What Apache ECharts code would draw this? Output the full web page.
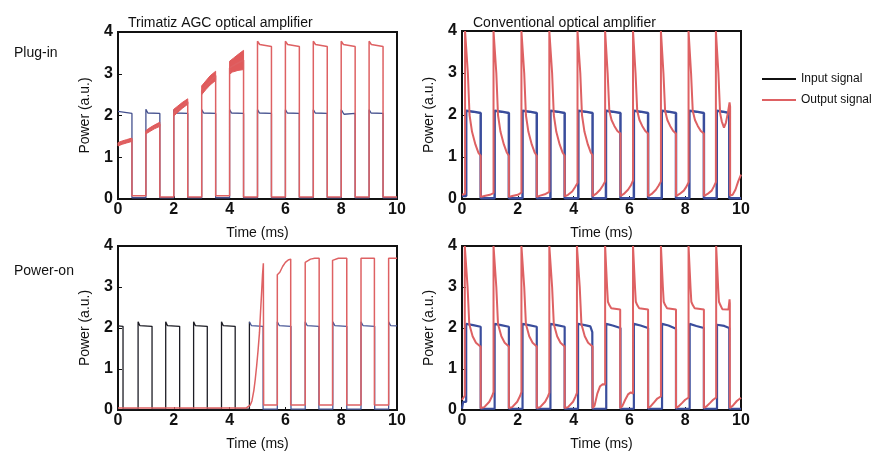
<!DOCTYPE html>
<html>
<head>
<meta charset="utf-8">
<script src="https://cdn.jsdelivr.net/npm/echarts@6/dist/echarts.min.js"></script>
<style>
html,body{margin:0;padding:0;background:#fff;}
#c{width:877px;height:452px;}
</style>
</head>
<body>
<div id="c"></div>
<script>
// ---------- DATA ----------
const xTicks = [0, 2, 4, 6, 8, 10];
const yTicks = [0, 1, 2, 3, 4];
const panelTitles = ['Trimatiz AGC optical amplifier', 'Conventional optical amplifier'];
const rowLabels = ['Plug-in', 'Power-on'];
const legendNames = ['Input signal', 'Output signal'];

// Panel 1: Trimatiz AGC, plug-in
const in1 = [[0,2.10],[0.05,2.06],[0.50,2.05],[0.50,0.03],[1.00,0.03],
 [1.00,2.15],[1.07,2.06],[1.50,2.05],[1.50,0.03],[2.00,0.03],
 [2.00,2.14],[2.07,2.06],[2.50,2.05],[2.50,0.03],[3.00,0.03],
 [3.00,2.14],[3.07,2.06],[3.50,2.05],[3.50,0.03],[4.00,0.03],
 [4.00,2.14],[4.07,2.06],[4.50,2.05],[4.50,0.03],[5.00,0.03],
 [5.00,2.14],[5.07,2.06],[5.50,2.05],[5.50,0.03],[6.00,0.03],
 [6.00,2.14],[6.07,2.06],[6.50,2.05],[6.50,0.03],[7.00,0.03],
 [7.00,2.14],[7.07,2.06],[7.50,2.05],[7.50,0.03],[8.00,0.03],
 [8.00,2.14],[8.10,2.03],[8.50,2.05],[8.50,0.03],[9.00,0.03],
 [9.00,2.14],[9.07,2.06],[9.50,2.05],[9.50,0.03],[10.00,0.03]];
const out1 = [[0,1.31],[0.25,1.37],[0.50,1.42],[0.50,0.08],[1.00,0.08],
 [1.00,1.60],[1.25,1.70],[1.50,1.79],[1.50,0.05],[2.00,0.05],
 [2.00,2.05],[2.25,2.20],[2.50,2.33],[2.50,0.05],[3.00,0.05],
 [3.00,2.60],[3.25,2.78],[3.50,2.96],[3.50,0.08],[4.00,0.08],
 [4.00,3.14],[4.25,3.24],[4.50,3.33],[4.50,0.05],[5.00,0.05],
 [5.00,3.78],[5.03,3.74],[5.08,3.70],[5.50,3.65],[5.50,0.05],[6.00,0.05],
 [6.00,3.78],[6.03,3.74],[6.08,3.70],[6.50,3.65],[6.50,0.05],[7.00,0.05],
 [7.00,3.78],[7.03,3.74],[7.08,3.70],[7.50,3.65],[7.50,0.05],[8.00,0.05],
 [8.00,3.78],[8.03,3.74],[8.08,3.70],[8.50,3.65],[8.50,0.05],[9.00,0.05],
 [9.00,3.78],[9.03,3.74],[9.08,3.70],[9.50,3.65],[9.50,0.05],[10.00,0.05]];
// thick (fast-fluctuating) output envelope during the first five pulses
const bandLo1 = [
 [[0,1.27],[0.15,1.31],[0.30,1.34],[0.50,1.38]],
 [[1,1.56],[1.15,1.62],[1.30,1.68],[1.50,1.74]],
 [[2,1.99],[2.15,2.08],[2.30,2.17],[2.50,2.27]],
 [[3,2.50],[3.15,2.62],[3.30,2.73],[3.50,2.84]],
 [[4,2.99],[4.10,3.04],[4.30,3.08],[4.50,3.10]]
];
const bandHi1 = [
 [[0,1.35],[0.15,1.39],[0.30,1.42],[0.50,1.46]],
 [[1,1.64],[1.15,1.71],[1.30,1.77],[1.50,1.84]],
 [[2,2.15],[2.15,2.23],[2.30,2.31],[2.50,2.40]],
 [[3,2.71],[3.15,2.83],[3.30,2.95],[3.50,3.06]],
 [[4,3.30],[4.15,3.38],[4.30,3.46],[4.50,3.56]]
];

// Panel 2: Conventional, plug-in
const in2 = [[0,0.07],[0.15,0.07],[0.15,2.10],[0.40,2.08],[0.67,2.05],[0.67,0.02],
 [1.17,0.02],[1.17,2.10],[1.42,2.08],[1.68,2.05],[1.68,0.02],
 [2.17,0.02],[2.17,2.10],[2.42,2.08],[2.68,2.05],[2.68,0.02],
 [3.17,0.02],[3.17,2.10],[3.42,2.08],[3.68,2.05],[3.68,0.02],
 [4.17,0.02],[4.17,2.10],[4.42,2.08],[4.68,2.05],[4.68,0.02],
 [5.16,0.02],[5.16,2.10],[5.40,2.08],[5.68,2.05],[5.68,0.02],
 [6.16,0.02],[6.16,2.10],[6.40,2.08],[6.67,2.05],[6.67,0.02],
 [7.16,0.02],[7.16,2.10],[7.40,2.08],[7.67,2.05],[7.67,0.02],
 [8.15,0.02],[8.15,2.10],[8.40,2.08],[8.67,2.05],[8.67,0.02],
 [9.13,0.02],[9.13,2.10],[9.35,2.08],[9.58,2.05],[9.58,0.02],[10,0.02]];
const out2 = [[0,0.10],[0.11,0.12],[0.11,4.0],[0.16,4.0],[0.21,3.0],[0.27,2.0],[0.36,1.6],[0.48,1.3],[0.59,1.10],[0.67,1.03],[0.67,0.05],
 [0.80,0.07],[1.00,0.10],[1.13,0.14],
 [1.13,4.0],[1.18,4.0],[1.23,3.0],[1.29,2.0],[1.38,1.6],[1.50,1.3],[1.61,1.10],[1.68,1.03],[1.68,0.05],
 [1.80,0.07],[2.00,0.10],[2.13,0.15],
 [2.13,4.0],[2.18,4.0],[2.23,3.0],[2.29,2.0],[2.38,1.6],[2.50,1.3],[2.61,1.10],[2.68,1.03],[2.68,0.05],
 [2.80,0.08],[3.00,0.12],[3.13,0.17],
 [3.13,4.0],[3.18,4.0],[3.23,3.0],[3.29,2.0],[3.38,1.6],[3.50,1.3],[3.61,1.10],[3.68,1.03],[3.68,0.06],
 [3.80,0.10],[3.95,0.18],[4.05,0.28],[4.14,0.38],
 [4.14,4.0],[4.19,4.0],[4.24,3.0],[4.30,2.0],[4.39,1.6],[4.51,1.3],[4.62,1.10],[4.68,1.04],[4.68,0.07],
 [4.80,0.12],[4.95,0.22],[5.05,0.32],[5.13,0.42],
 [5.13,4.0],[5.18,4.0],[5.22,3.0],[5.28,2.1],[5.36,1.88],[5.46,1.74],[5.57,1.62],[5.68,1.56],[5.68,0.07],
 [5.80,0.12],[5.95,0.22],[6.05,0.32],[6.13,0.44],
 [6.13,4.0],[6.18,4.0],[6.22,3.0],[6.28,2.1],[6.36,1.88],[6.46,1.74],[6.57,1.62],[6.67,1.56],[6.67,0.07],
 [6.80,0.12],[6.95,0.22],[7.05,0.32],[7.13,0.42],
 [7.13,4.0],[7.18,4.0],[7.22,3.0],[7.28,2.1],[7.36,1.88],[7.46,1.74],[7.57,1.62],[7.67,1.56],[7.67,0.07],
 [7.80,0.12],[7.95,0.20],[8.05,0.30],[8.12,0.40],
 [8.12,4.0],[8.17,4.0],[8.21,3.0],[8.27,2.1],[8.35,1.88],[8.45,1.74],[8.56,1.62],[8.67,1.56],[8.67,0.07],
 [8.80,0.12],[8.95,0.20],[9.03,0.30],[9.10,0.40],
 [9.10,4.0],[9.15,4.0],[9.19,3.0],[9.25,2.05],[9.31,1.85],[9.39,1.70],[9.46,1.82],[9.53,2.05],[9.59,2.30],[9.61,2.20],[9.61,0.08],
 [9.70,0.10],[9.80,0.22],[9.90,0.42],[10,0.58]];

// Panel 3: Trimatiz AGC, power-on
const in3a = [[0,2.05],[0.18,2.04],[0.18,0.02],[0.72,0.02],[0.72,2.15],[0.78,2.06],[1.22,2.04],[1.22,0.02],
 [1.71,0.02],[1.71,2.15],[1.77,2.06],[2.21,2.04],[2.21,0.02],
 [2.71,0.02],[2.71,2.15],[2.77,2.06],[3.20,2.04],[3.20,0.02],
 [3.71,0.02],[3.71,2.15],[3.77,2.06],[4.20,2.04],[4.20,0.02],
 [4.71,0.02],[4.71,2.15]];
const in3b = [[4.71,2.15],[4.78,2.06],[5.20,2.04],[5.20,0.02],
 [5.71,0.02],[5.71,2.15],[5.78,2.06],[6.20,2.04],[6.20,0.02],
 [6.71,0.02],[6.71,2.15],[6.78,2.06],[7.20,2.04],[7.20,0.02],
 [7.70,0.02],[7.70,2.15],[7.77,2.06],[8.20,2.04],[8.20,0.02],
 [8.71,0.02],[8.71,2.15],[8.78,2.06],[9.20,2.04],[9.20,0.02],
 [9.70,0.02],[9.70,2.15],[9.77,2.06],[10,2.05]];
const out3 = [[0,0.05],[4.60,0.05],[4.67,0.07],[4.74,0.12],[4.80,0.22],[4.87,0.48],[4.92,0.75],[4.97,1.08],[5.02,1.45],[5.07,1.88],[5.11,2.40],[5.15,2.90],[5.18,3.30],[5.21,3.58],[5.22,0.12],
 [5.71,0.12],[5.71,3.30],[5.74,3.27],[5.80,3.36],[5.90,3.50],[6.00,3.60],[6.10,3.66],[6.19,3.68],[6.19,0.12],
 [6.71,0.12],[6.71,3.60],[6.78,3.63],[6.90,3.68],[7.05,3.70],[7.21,3.70],[7.21,0.12],
 [7.69,0.12],[7.69,3.65],[7.76,3.68],[7.90,3.70],[8.20,3.70],[8.20,0.12],
 [8.71,0.12],[8.71,3.70],[9.19,3.70],[9.19,0.12],
 [9.70,0.12],[9.70,3.70],[10,3.70]];

// Panel 4: Conventional, power-on
const in4 = [[0,0.03],[0.04,0.03],[0.04,0.20],[0.15,0.20],[0.15,2.10],[0.40,2.07],[0.67,2.03],[0.67,0.03],
 [1.17,0.03],[1.17,2.10],[1.40,2.07],[1.68,2.03],[1.68,0.03],
 [2.17,0.03],[2.17,2.10],[2.40,2.07],[2.68,2.03],[2.68,0.03],
 [3.17,0.03],[3.17,2.10],[3.40,2.07],[3.68,2.03],[3.68,0.03],
 [4.16,0.03],[4.16,2.10],[4.40,2.07],[4.60,2.04],[4.67,1.90],[4.68,0.03],
 [5.17,0.03],[5.17,2.10],[5.40,2.06],[5.68,2.00],[5.68,0.03],
 [6.16,0.03],[6.16,2.10],[6.40,2.06],[6.67,2.00],[6.67,0.03],
 [7.17,0.03],[7.17,2.10],[7.40,2.06],[7.67,1.98],[7.67,0.03],
 [8.16,0.03],[8.16,2.10],[8.40,2.05],[8.67,2.00],[8.67,0.03],
 [9.14,0.03],[9.14,2.08],[9.40,2.05],[9.58,2.00],[9.58,0.03],[10,0.03]];
const out4 = [[0,0.25],[0.05,0.30],[0.10,0.35],[0.10,4.0],[0.15,4.0],[0.20,3.0],[0.26,2.1],[0.38,1.8],[0.50,1.64],[0.67,1.54],[0.67,0.05],
 [0.80,0.07],[0.98,0.20],[1.08,0.34],[1.13,0.44],
 [1.13,4.0],[1.18,4.0],[1.23,3.0],[1.29,2.1],[1.41,1.8],[1.53,1.64],[1.68,1.55],[1.68,0.05],
 [1.80,0.07],[1.98,0.20],[2.08,0.34],[2.13,0.44],
 [2.13,4.0],[2.18,4.0],[2.23,3.0],[2.29,2.1],[2.41,1.8],[2.53,1.64],[2.68,1.55],[2.68,0.05],
 [2.80,0.07],[2.98,0.20],[3.08,0.33],[3.13,0.42],
 [3.13,4.0],[3.18,4.0],[3.23,3.0],[3.29,2.1],[3.41,1.8],[3.53,1.64],[3.68,1.55],[3.68,0.05],
 [3.80,0.07],[3.98,0.20],[4.07,0.33],[4.12,0.42],
 [4.12,4.0],[4.17,4.0],[4.22,3.0],[4.28,2.1],[4.40,1.8],[4.52,1.64],[4.68,1.55],[4.68,0.05],
 [4.75,0.10],[4.85,0.40],[4.95,0.58],[5.05,0.63],[5.13,0.62],
 [5.13,4.0],[5.17,4.0],[5.20,3.0],[5.23,2.64],[5.28,2.56],[5.35,2.48],[5.67,2.45],[5.67,0.05],
 [5.75,0.10],[5.85,0.25],[5.95,0.38],[6.05,0.43],[6.13,0.40],
 [6.13,4.0],[6.17,4.0],[6.20,3.0],[6.23,2.64],[6.28,2.56],[6.35,2.48],[6.67,2.45],[6.67,0.05],
 [6.75,0.08],[6.90,0.20],[7.00,0.28],[7.13,0.33],
 [7.13,4.0],[7.17,4.0],[7.20,3.0],[7.23,2.64],[7.28,2.56],[7.35,2.48],[7.67,2.45],[7.67,0.05],
 [7.75,0.08],[7.90,0.18],[8.00,0.25],[8.12,0.30],
 [8.12,4.0],[8.16,4.0],[8.19,3.0],[8.22,2.64],[8.27,2.56],[8.34,2.48],[8.67,2.45],[8.67,0.05],
 [8.75,0.08],[8.90,0.18],[9.00,0.25],[9.11,0.30],
 [9.11,4.0],[9.15,4.0],[9.18,3.0],[9.21,2.64],[9.26,2.56],[9.33,2.46],[9.55,2.45],[9.59,2.70],[9.60,2.60],[9.60,0.05],
 [9.70,0.10],[9.85,0.22],[10,0.30]];

// ---------- CHART ----------
const FONT = '"Liberation Sans", Arial, Helvetica, sans-serif';
const RED = '#de6163';
const grids = [
  {left:118, top:32, width:279, height:167},
  {left:462, top:31, width:279, height:168},
  {left:118, top:246, width:279, height:168},
  {left:462, top:246, width:279, height:168}
];

function xAx(i){
  return {
    type:'value', gridIndex:i, min:xTicks[0], max:xTicks[xTicks.length-1], interval:xTicks[1]-xTicks[0],
    name:'Time (ms)', nameLocation:'middle', nameGap:27,
    nameTextStyle:{fontFamily:FONT, fontSize:14, color:'#111'},
    axisLine:{show:false}, splitLine:{show:false},
    axisTick:{show:true, inside:true, length:3, lineStyle:{color:'#111'}},
    axisLabel:{fontFamily:FONT, fontSize:16, fontWeight:'bold', color:'#111', margin:3}
  };
}
function yAx(i){
  return {
    type:'value', gridIndex:i, min:yTicks[0], max:yTicks[yTicks.length-1], interval:yTicks[1]-yTicks[0],
    name:'Power (a.u.)', nameLocation:'middle', nameGap:26,
    nameTextStyle:{fontFamily:FONT, fontSize:14, color:'#111'},
    axisLine:{show:false}, splitLine:{show:false},
    axisTick:{show:true, inside:true, length:4, lineStyle:{color:'#111'}},
    axisLabel:{fontFamily:FONT, fontSize:16, fontWeight:'bold', color:'#111', margin:5}
  };
}
function line(name, data, i, color, width, z){
  return {type:'line', name:name, data:data, xAxisIndex:i, yAxisIndex:i,
    showSymbol:false, symbol:'none', z:z||2,
    lineStyle:{color:color, width:width}, itemStyle:{color:color}};
}

const bandSeries = {
  type:'custom', name:legendNames[1], xAxisIndex:0, yAxisIndex:0, z:3,
  data: bandLo1.map((b,i) => [b[0][0], b[0][1], i]),
  itemStyle:{color:RED},
  renderItem: function(params, api){
    const k = api.value(2);
    const pts = bandLo1[k].concat(bandHi1[k].slice().reverse()).map(p => api.coord(p));
    return {type:'polygon', shape:{points:pts}, style:{fill:'#e05a5b', stroke:'#e05a5b', lineWidth:1}};
  }
};

const option = {
  animation:false,
  backgroundColor:'#fff',
  textStyle:{fontFamily:FONT},
  title:[
    {text:panelTitles[0], left:123, top:11, textStyle:{fontFamily:FONT, fontSize:14, fontWeight:'normal', color:'#111'}},
    {text:panelTitles[1], left:468, top:11, textStyle:{fontFamily:FONT, fontSize:14, fontWeight:'normal', color:'#111'}},
    {text:rowLabels[0], left:9, top:41, textStyle:{fontFamily:FONT, fontSize:14, fontWeight:'normal', color:'#111'}},
    {text:rowLabels[1], left:9, top:259, textStyle:{fontFamily:FONT, fontSize:14, fontWeight:'normal', color:'#111'}}
  ],
  legend:{
    orient:'vertical', left:757, top:68, itemWidth:34, itemHeight:2, itemGap:9, icon:'rect',
    textStyle:{fontFamily:FONT, fontSize:12, color:'#111'},
    data:[{name:legendNames[0], itemStyle:{color:'#111'}}, {name:legendNames[1], itemStyle:{color:RED}}]
  },
  grid: grids.map(g => Object.assign({show:true, borderColor:'#111', borderWidth:2, backgroundColor:'#fff'}, g)),
  xAxis:[xAx(0), xAx(1), xAx(2), xAx(3)],
  yAxis:[yAx(0), yAx(1), yAx(2), yAx(3)],
  series:[
    line(legendNames[0], in1, 0, '#44508e', 1.3, 2),
    line(legendNames[1], out1, 0, RED, 1.5, 3),
    bandSeries,
    line(legendNames[0], in2, 1, '#3a4d9c', 2.5, 2),
    line(legendNames[1], out2, 1, RED, 2, 3),
    line(legendNames[0], in3a, 2, '#1c1c24', 1.3, 2),
    line(legendNames[0], in3b, 2, '#4a5898', 1.3, 2),
    line(legendNames[1], out3, 2, RED, 1.5, 3),
    line(legendNames[0], in4, 3, '#3a4d9c', 2.2, 2),
    line(legendNames[1], out4, 3, RED, 2, 3)
  ]
};
const chart = echarts.init(document.getElementById('c'), null, {renderer:'canvas'});
chart.setOption(option);
</script>
</body>
</html>
